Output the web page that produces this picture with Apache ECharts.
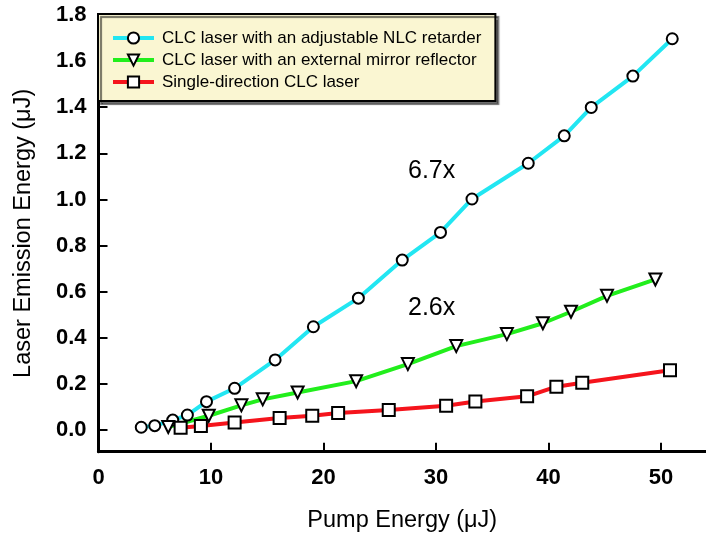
<!DOCTYPE html>
<html>
<head>
<meta charset="utf-8">
<script src="https://cdn.jsdelivr.net/npm/echarts@6/dist/echarts.min.js"></script>
<style>
  html, body { margin: 0; padding: 0; background: #fff; }
  #chart { width: 706px; height: 538px; }
</style>
</head>
<body>
<div id="chart"></div>
<script>
// pump energy (uJ) and emission energy (uJ) for each laser setup
const pumpNLC = [3.8, 5.0, 6.6, 7.9, 9.6, 12.1, 15.7, 19.1, 23.1, 27.0, 30.4, 33.2, 38.2, 41.4, 43.8, 47.5, 51.0];
const emitNLC = [0.012, 0.019, 0.043, 0.065, 0.123, 0.181, 0.304, 0.448, 0.572, 0.737, 0.857, 1.002, 1.157, 1.276, 1.399, 1.535, 1.697];

const pumpMirror = [6.2, 9.8, 12.7, 14.6, 17.7, 22.9, 27.5, 31.8, 36.3, 39.5, 42.0, 45.2, 49.5];
const emitMirror = [0.013, 0.062, 0.107, 0.133, 0.163, 0.212, 0.286, 0.364, 0.416, 0.463, 0.513, 0.582, 0.653];

const pumpSingle = [7.3, 9.1, 12.1, 16.1, 19.0, 21.3, 25.8, 30.9, 33.5, 38.1, 40.7, 43.0, 50.8];
const emitSingle = [0.010, 0.017, 0.033, 0.052, 0.062, 0.074, 0.087, 0.105, 0.124, 0.146, 0.188, 0.205, 0.259];

const seriesNames = [
  'CLC laser with an adjustable NLC retarder',
  'CLC laser with an external mirror reflector',
  'Single-direction CLC laser'
];
const xTicks = [0, 10, 20, 30, 40, 50];
const yTicks = [0, 0.2, 0.4, 0.6, 0.8, 1.0, 1.2, 1.4, 1.6, 1.8];
const ratioLabels = ['6.7x', '2.6x'];

const zip = (xs, ys) => xs.map((x, i) => [x, ys[i]]);

const font = 'Liberation Sans, Arial, Helvetica, sans-serif';

function lineSeries(name, data, color, symbol, size, rotate) {
  return {
    name: name,
    type: 'line',
    data: data,
    symbol: symbol,
    symbolSize: size,
    symbolRotate: rotate || 0,
    showAllSymbol: true,
    lineStyle: { color: color, width: 4 },
    itemStyle: { color: '#fff', borderColor: '#000', borderWidth: 2 },
    emphasis: { disabled: true },
    z: 3
  };
}

const chart = echarts.init(document.getElementById('chart'));
chart.setOption({
  animation: false,
  grid: { left: 98.5, right: 0, top: 15, bottom: 86.3 },
  xAxis: {
    type: 'value',
    min: 0,
    max: 54,
    name: 'Pump Energy (\u03bcJ)',
    nameLocation: 'middle',
    nameGap: 57,
    nameTextStyle: { fontFamily: font, fontSize: 23.5, color: '#000' },
    axisLine: { show: true, onZero: false, lineStyle: { color: '#000', width: 3 } },
    axisTick: { show: true, inside: true, length: 9, lineStyle: { color: '#000', width: 2 }, customValues: xTicks.slice(1) },
    axisLabel: { customValues: xTicks, margin: 15, fontFamily: font, fontSize: 22, fontWeight: 'bold', color: '#000' },
    splitLine: { show: false }
  },
  yAxis: {
    type: 'value',
    min: -0.094,
    max: 1.8,
    name: 'Laser Emission Energy (\u03bcJ)',
    nameLocation: 'middle',
    nameGap: 63,
    nameTextStyle: { fontFamily: font, fontSize: 23.5, color: '#000' },
    axisLine: { show: true, onZero: false, lineStyle: { color: '#000', width: 3 } },
    axisTick: { show: true, inside: true, length: 9, lineStyle: { color: '#000', width: 2 }, customValues: yTicks },
    axisLabel: {
      customValues: yTicks, margin: 12, fontFamily: font, fontSize: 22, fontWeight: 'bold', color: '#000',
      formatter: v => v.toFixed(1)
    },
    splitLine: { show: false }
  },
  legend: {
    orient: 'vertical',
    left: 98,
    top: 14,
    padding: [14, 14, 9, 13],
    itemWidth: 41,
    itemHeight: 14,
    itemGap: 2,
    backgroundColor: '#faf6d2',
    borderColor: '#000',
    borderWidth: 2,
    borderRadius: 0,
    shadowColor: 'rgba(0,0,0,0.55)',
    shadowBlur: 1,
    shadowOffsetX: 3,
    shadowOffsetY: 3,
    lineStyle: { width: 4 },
    textStyle: { fontFamily: font, fontSize: 17, color: '#000', lineHeight: 20, padding: [0, 0, 0, 3] },
    data: seriesNames
  },
  graphic: [
    { type: 'text', left: 408, top: 159, style: { text: ratioLabels[0], fontFamily: font, fontSize: 25, fill: '#000' } },
    { type: 'text', left: 408, top: 296, style: { text: ratioLabels[1], fontFamily: font, fontSize: 25, fill: '#000' } }
  ],
  series: [
    lineSeries(seriesNames[0], zip(pumpNLC, emitNLC), '#22e6f2', 'circle', 11),
    lineSeries(seriesNames[1], zip(pumpMirror, emitMirror), '#22ee1c', 'triangle', 12, 180),
    lineSeries(seriesNames[2], zip(pumpSingle, emitSingle), '#f5141c', 'rect', 12)
  ]
});
</script>
</body>
</html>
